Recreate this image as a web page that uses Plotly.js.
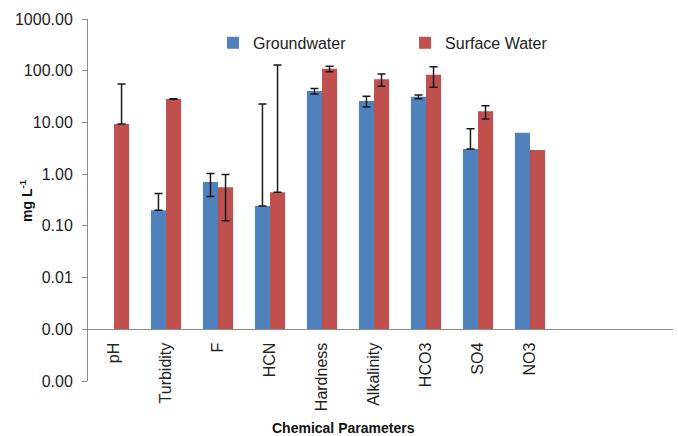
<!DOCTYPE html>
<html>
<head>
<meta charset="utf-8">
<script src="https://cdn.plot.ly/plotly-3.0.1.min.js"></script>
<style>html,body{margin:0;padding:0;background:#fff;}#chart{width:678px;height:436px;}</style>
</head>
<body>
<div id="chart"></div>
<script>
const categories = ['pH','Turbidity','F','HCN','Hardness','Alkalinity','HCO3','SO4','NO3'];
const groundwater = [null, 0.20, 0.70, 0.24, 40.5, 25.9, 31.4, 3.05, 6.3];
const groundErrPlus = [null, 0.22, 0.33, 22.5, 5, 6, 2.7, 4.5, null];
const groundErrMinus = [null, 0, 0.33, 0, 5, 6, 2.7, 0, null];
const surface = [9.3, 28.4, 0.555, 0.445, 109, 68.2, 83.8, 16.4, 2.93];
const surfErrPlus = [46, 0.3, 0.43, 128.5, 13, 18, 36, 4.7, null];
const surfErrMinus = [0, 0.3, 0.43, 0, 13, 18, 36, 4.7, null];
const yTickVals = [0.0001, 0.001, 0.01, 0.1, 1, 10, 100, 1000];
const yTickText = ['0.00', '0.00', '0.01', '0.10', '1.00', '10.00', '100.00', '1000.00'];

const nan = a => a.map(v => v === null ? NaN : v);
const FONT = '"Liberation Sans", Arial, sans-serif';

const errStyle = {type: 'data', symmetric: false, color: '#1a1a1a', thickness: 1.5, width: 4};

const traces = [
  {
    type: 'bar', name: 'Groundwater', x: categories, y: groundwater, base: 0.001,
    marker: {color: '#4F81BD'},
    error_y: Object.assign({}, errStyle, {array: nan(groundErrPlus), arrayminus: nan(groundErrMinus)}),
    legend: 'legend'
  },
  {
    type: 'bar', name: 'Surface Water', x: categories, y: surface, base: 0.001,
    marker: {color: '#C0504D'},
    error_y: Object.assign({}, errStyle, {array: nan(surfErrPlus), arrayminus: nan(surfErrMinus)}),
    legend: 'legend2'
  }
];

const layout = {
  width: 678, height: 436,
  margin: {l: 88, r: 5, t: 19, b: 55},
  paper_bgcolor: '#fff', plot_bgcolor: '#fff',
  font: {family: FONT, size: 16, color: '#222'},
  barmode: 'group', bargap: 0.42, bargroupgap: 0,
  showlegend: true,
  legend: {orientation: 'h', x: 0.2137, y: 0.934, xanchor: 'left', yanchor: 'middle',
           font: {family: FONT, size: 16, color: '#222'}, bgcolor: 'rgba(0,0,0,0)'},
  legend2: {orientation: 'h', x: 0.542, y: 0.934, xanchor: 'left', yanchor: 'middle',
           font: {family: FONT, size: 16, color: '#222'}, bgcolor: 'rgba(0,0,0,0)'},
  xaxis: {
    type: 'category', categoryorder: 'array', categoryarray: categories,
    range: [-0.5, 10.75], anchor: 'free', position: 1/7,
    showline: true, linecolor: '#8c8c8c', linewidth: 1,
    ticks: '', tickangle: -90, ticklabelstandoff: 6,
    tickfont: {family: FONT, size: 16, color: '#222'},
    showgrid: false, zeroline: false
  },
  yaxis: {
    type: 'log', range: [-4, 3],
    tickvals: yTickVals, ticktext: yTickText,
    ticks: 'outside', ticklen: 5, tickcolor: '#8c8c8c', tickwidth: 1,
    showline: true, linecolor: '#8c8c8c', linewidth: 1,
    showgrid: false, zeroline: false, ticklabelstandoff: 6,
    tickfont: {family: FONT, size: 16, color: '#222'}
  },
  annotations: [
    {text: '<b>mg L<sup>-1</sup></b>', xref: 'paper', yref: 'paper', x: -0.106, y: 0.5,
     textangle: -90, showarrow: false, xanchor: 'center', yanchor: 'middle',
     font: {family: FONT, size: 14, color: '#111'}},
    {text: '<b>Chemical Parameters</b>', xref: 'paper', yref: 'paper', x: 0.4376, y: -0.13,
     showarrow: false, xanchor: 'center', yanchor: 'middle',
     font: {family: FONT, size: 14, color: '#111'}}
  ]
};

Plotly.newPlot('chart', traces, layout, {displayModeBar: false, staticPlot: true});
</script>
</body>
</html>
